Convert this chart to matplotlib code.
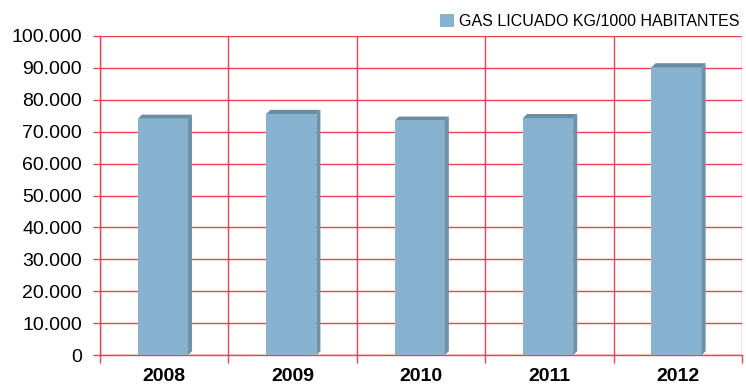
import matplotlib
matplotlib.use('Agg')
import matplotlib.pyplot as plt
from matplotlib.patches import Polygon
from matplotlib.ticker import FuncFormatter, MultipleLocator

years = ['2008', '2009', '2010', '2011', '2012']
gas_kg = [74000, 75500, 73400, 74200, 90100]
series_name = 'GAS LICUADO KG/1000 HABITANTES'

front = '#87B2D0'
side = '#6C92AC'
top = '#6A8DA6'
red = '#E8434F'

plt.rcParams['font.family'] = ['Liberation Sans', 'DejaVu Sans']

fig = plt.figure(figsize=(7.46, 3.85), dpi=100)
ax = fig.add_axes([0.134, 0.0771, 0.8606, 0.8302])

x = range(len(years))
w = 0.39
dx = 0.032          # depth of the fake 3d bars, x units
dy = 1300           # depth, y units
bars = ax.bar([i - 0.01 for i in x], gas_kg, width=w, color=front,
              edgecolor='none', zorder=3, label=series_name)
for i, v in zip(x, gas_kg):
    x0 = i - 0.01 - w / 2
    x1 = x0 + w
    ax.add_patch(Polygon([(x1, 0), (x1 + dx, dy), (x1 + dx, v + dy), (x1, v)],
                         closed=True, color=side, lw=0, zorder=3))
    ax.add_patch(Polygon([(x0, v), (x0 + dx, v + dy), (x1 + dx, v + dy), (x1, v)],
                         closed=True, color=top, lw=0, zorder=3))

ax.set_xlim(-0.5, 4.5)
ax.set_ylim(0, 100000)
ax.yaxis.set_major_locator(MultipleLocator(10000))
ax.yaxis.set_major_formatter(FuncFormatter(lambda v, p: f'{int(v):,}'.replace(',', '.')))
ax.set_xticks(list(x))
ax.set_xticklabels(years, fontsize=14, fontweight='bold')
ax.set_xticks([i - 0.5 for i in range(len(years) + 1)], minor=True)
ax.tick_params(axis='x', which='major', length=0, pad=9)
ax.tick_params(axis='x', which='minor', length=6, color=red, width=1)
ax.tick_params(axis='y', length=5, color=red, width=1, labelsize=14, pad=8)

ax.grid(axis='y', which='major', color=red, lw=1, zorder=1)
ax.grid(axis='x', which='minor', color=red, lw=1, zorder=1)
for s in ['top', 'right']:
    ax.spines[s].set_visible(False)
for s in ['left', 'bottom']:
    ax.spines[s].set_color(red)
    ax.spines[s].set_linewidth(1)

fig.legend(handles=[bars], labels=[series_name], loc='upper right',
           bbox_to_anchor=(1.006, 0.992), frameon=False, fontsize=11.5,
           handlelength=0.85, handleheight=0.85, handletextpad=0.3,
           borderaxespad=0.3)

fig.savefig('out.png', dpi=100)
